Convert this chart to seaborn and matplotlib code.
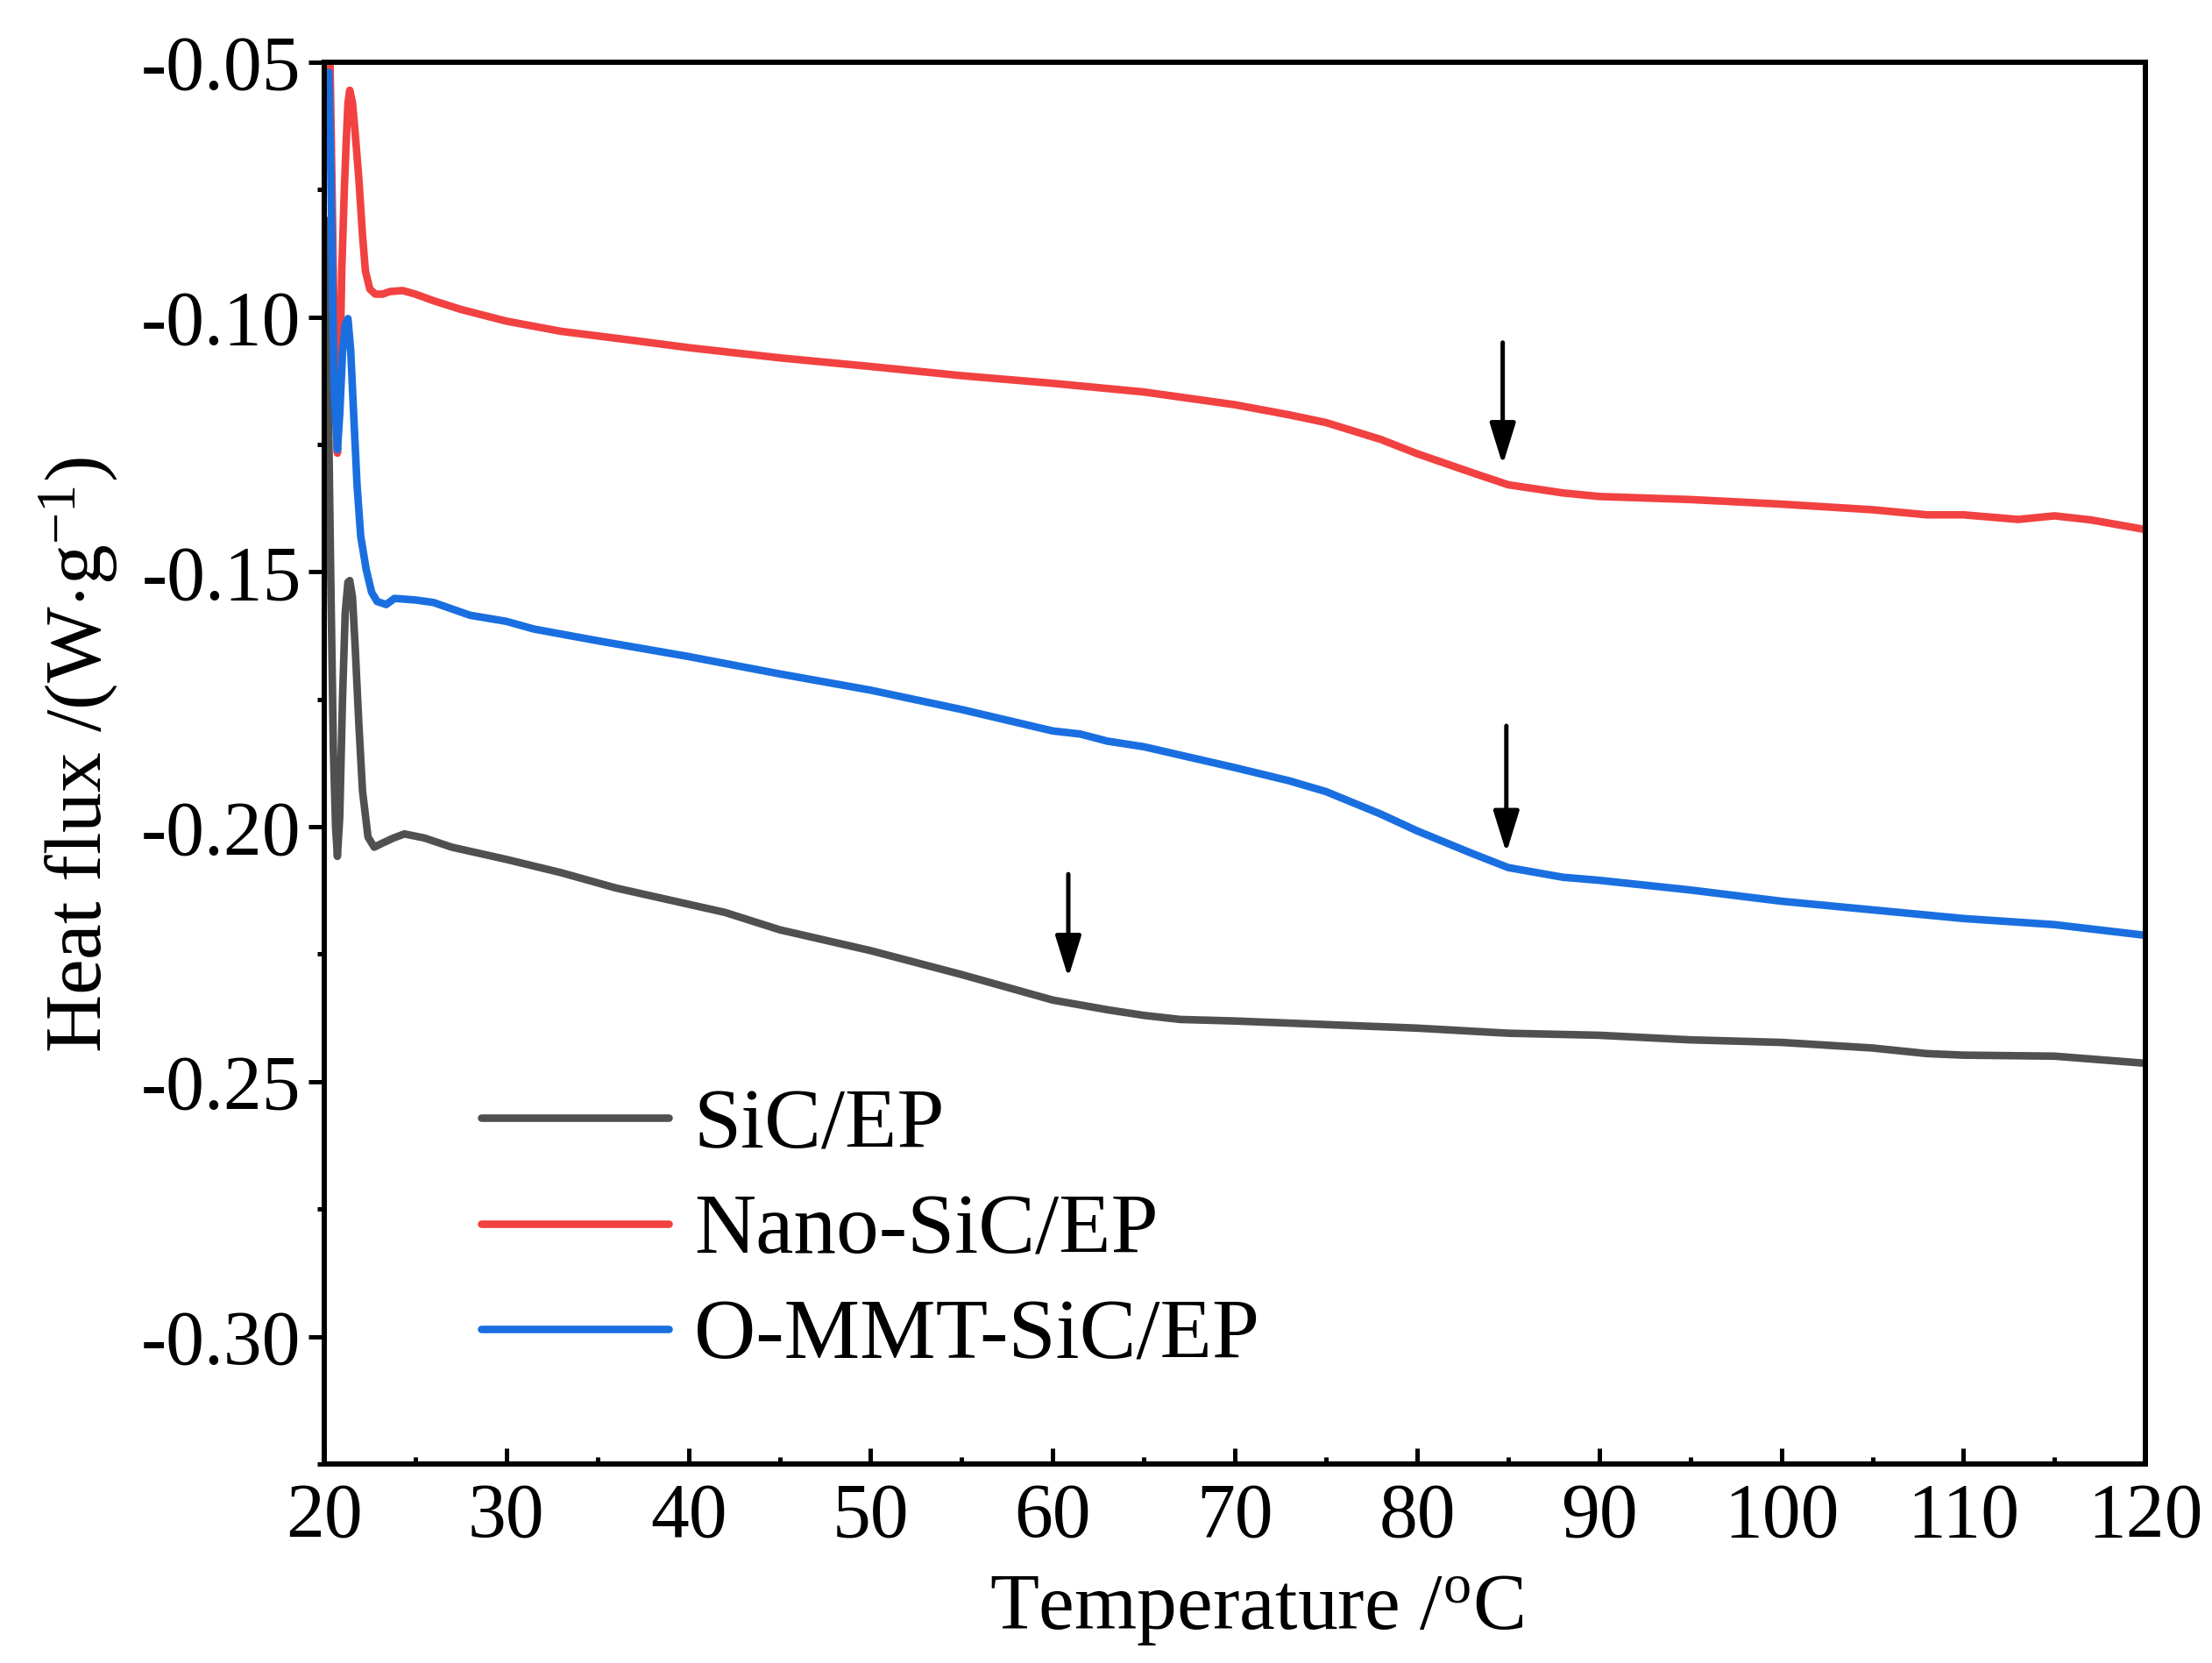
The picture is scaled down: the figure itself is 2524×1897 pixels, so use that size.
import numpy as np
import pandas as pd
import matplotlib
matplotlib.use("Agg")
import matplotlib.pyplot as plt
import seaborn as sns
from matplotlib.ticker import MultipleLocator, FormatStrFormatter

# DSC curves (temperature in C, heat flux in W/g)
sic_t = [20.1, 20.2, 20.35, 20.5, 20.62, 20.72, 20.85, 21.0, 21.15, 21.3, 21.4, 21.55, 21.7, 21.9,
         22.1, 22.4, 22.74, 23.2, 23.8, 24.4, 25.5, 27, 30, 33, 36, 40, 42, 45, 50, 55, 58, 60, 63,
         65, 67, 70, 75, 80, 85, 90, 95, 100, 105, 108, 110, 115, 120]
sic_q = [-0.081, -0.11, -0.15, -0.185, -0.2, -0.2058, -0.198, -0.175, -0.158, -0.152, -0.1517,
         -0.155, -0.165, -0.18, -0.193, -0.202, -0.204, -0.2032, -0.2022, -0.2014, -0.2022, -0.204,
         -0.2064, -0.209, -0.212, -0.2152, -0.2168, -0.2202, -0.2243, -0.229, -0.232, -0.234,
         -0.2359, -0.237, -0.2378, -0.2381, -0.2388, -0.2395, -0.2405, -0.2409, -0.2418, -0.2423,
         -0.2434, -0.2445, -0.2448, -0.245, -0.2464]

nano_t = [20.3, 20.45, 20.6, 20.72, 20.85, 20.96, 21.1, 21.2, 21.3, 21.4, 21.55, 21.7, 21.9, 22.1,
          22.26, 22.5, 22.8, 23.2, 23.6, 24.3, 25, 26, 27.5, 30, 33, 37, 40, 45, 50, 55, 60, 65,
          70, 73, 75, 78, 80, 83, 85, 88, 90, 95, 100, 105, 108, 110, 113, 115, 117, 120]
nano_q = [-0.046, -0.08, -0.115, -0.1267, -0.112, -0.091, -0.075, -0.066, -0.058, -0.0555, -0.058,
          -0.064, -0.073, -0.084, -0.091, -0.0945, -0.0955, -0.0955, -0.095, -0.0948, -0.0955,
          -0.0968, -0.0985, -0.1008, -0.1028, -0.1046, -0.106, -0.108, -0.1097, -0.1115, -0.113,
          -0.1147, -0.1172, -0.1192, -0.1207, -0.124, -0.1268, -0.1305, -0.1329, -0.1345, -0.1352,
          -0.1358, -0.1367, -0.1378, -0.1388, -0.1388, -0.1397, -0.139, -0.1398, -0.1417]

mmt_t = [20.25, 20.35, 20.45, 20.55, 20.72, 20.85, 21.0, 21.15, 21.3, 21.45, 21.6, 21.8, 22.0, 22.3,
         22.6, 22.9, 23.4, 23.85, 25, 26, 28, 30, 31.5, 35, 40, 45, 50, 55, 60, 61.5, 63, 65, 70,
         73, 75, 78, 80, 83, 85, 88, 90, 95, 100, 105, 110, 115, 120]
mmt_q = [-0.052, -0.07, -0.095, -0.115, -0.126, -0.119, -0.107, -0.1015, -0.1003, -0.1065, -0.118,
         -0.133, -0.143, -0.1495, -0.154, -0.1558, -0.1564, -0.1552, -0.1555, -0.156, -0.1585,
         -0.1597, -0.1612, -0.1635, -0.1666, -0.17, -0.1732, -0.177, -0.1812, -0.1818, -0.1832,
         -0.1843, -0.1884, -0.191, -0.1931, -0.1975, -0.2008, -0.2052, -0.208, -0.2099, -0.2105,
         -0.2124, -0.2146, -0.2163, -0.218, -0.2192, -0.2213]

labels = ["SiC/EP", "Nano-SiC/EP", "O-MMT-SiC/EP"]
colors = ["#505050", "#F24141", "#1A6FE0"]

# arrows marking Tg: (x, y_start, y_end)
arrow_x = [84.7, 84.9, 60.85]
arrow_y0 = [-0.105, -0.1802, -0.2093]
arrow_y1 = [-0.129, -0.2051, -0.2296]

df = pd.concat([
    pd.DataFrame({"T": sic_t, "Q": sic_q, "sample": labels[0]}),
    pd.DataFrame({"T": nano_t, "Q": nano_q, "sample": labels[1]}),
    pd.DataFrame({"T": mmt_t, "Q": mmt_q, "sample": labels[2]}),
])

sns.set_style("ticks")
plt.rcParams["font.family"] = ["Liberation Serif", "DejaVu Serif"]
plt.rcParams["mathtext.fontset"] = "custom"
plt.rcParams["mathtext.rm"] = "Liberation Serif"
plt.rcParams["mathtext.it"] = "Liberation Serif:italic"
plt.rcParams["axes.unicode_minus"] = False
for k in ["text.color", "axes.labelcolor", "xtick.color", "ytick.color", "axes.edgecolor"]:
    plt.rcParams[k] = "black"

fig = plt.figure(figsize=(25.24, 18.97), dpi=100)
ax = fig.add_axes([0.1466, 0.1197, 0.8234, 0.8429])

sns.lineplot(data=df, x="T", y="Q", hue="sample", palette=colors, hue_order=labels,
             estimator=None, sort=False, lw=6.2, ax=ax)

for x, y0, y1 in zip(arrow_x, arrow_y0, arrow_y1):
    ax.annotate("", xy=(x, y1), xytext=(x, y0),
                arrowprops=dict(arrowstyle="-|>,head_length=2.9,head_width=0.9",
                                mutation_scale=10, lw=3.6, color="black",
                                shrinkA=0, shrinkB=0))

ax.set_xlim(20, 120)
ax.set_ylim(-0.325, -0.05)
ax.xaxis.set_major_locator(MultipleLocator(10))
ax.xaxis.set_minor_locator(MultipleLocator(5))
ax.yaxis.set_major_locator(MultipleLocator(0.05))
ax.yaxis.set_minor_locator(MultipleLocator(0.025))
ax.yaxis.set_major_formatter(FormatStrFormatter("%.2f"))

for s in ax.spines.values():
    s.set_linewidth(4.3)
    s.set_color("black")
ax.tick_params(axis="x", which="both", direction="in", labelsize=63, pad=15)
ax.tick_params(axis="y", which="both", direction="out", labelsize=63, pad=6)
ax.tick_params(which="major", length=13, width=3.6)
ax.tick_params(which="minor", length=6, width=3.6)

ax.set_xlabel(r"Temperature /$^{\mathrm{o}}$C", fontsize=66)
ax.set_ylabel(r"Heat flux /(W$\cdot$g$^{-1}$)", fontsize=66)
ax.xaxis.set_label_coords(0.512, -0.078)
ax.yaxis.set_label_coords(-0.112, 0.506)

leg = ax.legend(loc="center left", bbox_to_anchor=(0.086, 0.165), frameon=False,
                fontsize=70, handlelength=2.2, handletextpad=0.3, labelspacing=0.32,
                borderpad=0, borderaxespad=0)
for h in leg.get_lines():
    h.set_linewidth(6.2)

plt.savefig("out.png", dpi=100)
plt.close()
